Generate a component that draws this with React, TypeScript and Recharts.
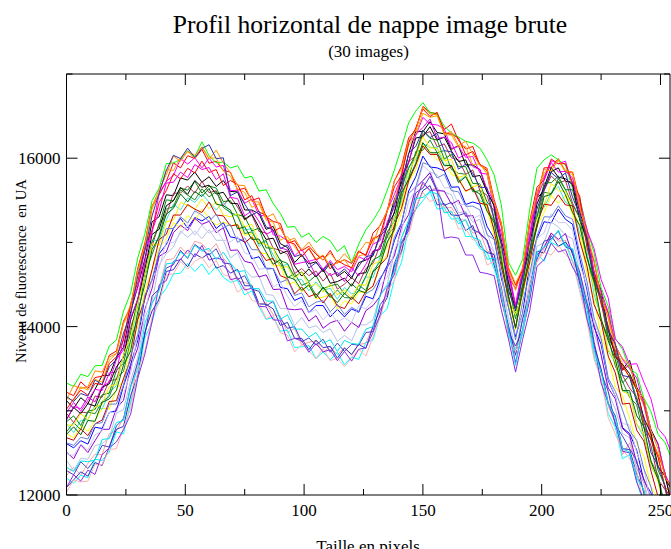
import React from 'react';
import { LineChart, Line, XAxis, YAxis } from 'recharts';

const xValues = [0,3,6,9,12,15,18,21,24,27,30,33,36,39,42,45,48,51,54,57,60,63,66,69,72,75,78,81,84,87,90,93,96,99,102,105,108,111,114,117,120,123,126,129,132,135,138,141,144,147,150,153,156,159,162,165,168,171,174,177,180,183,186,189,192,195,198,201,204,207,210,213,216,219,222,225,228,231,234,237,240,243,246,249,252,254];

const s01 = [13120,13030,13155,13085,13255,13420,13420,13630,13755,14180,14475,14805,15245,15305,15565,15555,15765,15740,15835,15715,15780,15665,15735,15605,15600,15385,15385,15340,15155,15190,14985,14940,14760,14850,14745,14770,14650,14745,14595,14655,14570,14760,14790,14840,15100,15205,15510,15705,16050,16320,16315,16435,16305,16290,16105,16150,15920,15920,15865,15600,15445,15030,14655,14230,14640,15055,15525,15615,15840,15885,15725,15715,15360,15115,14645,14430,13960,13780,13490,13600,13280,13130,12775,12605,12200,12095];
const s02 = [13220,13180,13345,13265,13395,13410,13660,13710,14065,14230,14695,14995,15435,15565,15725,15945,15885,16030,15995,16105,15940,15965,15855,15835,15620,15645,15495,15530,15305,15250,15225,14990,15020,14900,14955,14860,14790,14905,14755,14795,14750,14900,14840,15110,15200,15375,15730,15905,16240,16340,16615,16545,16525,16340,16405,16210,16110,16140,15915,15850,15455,15190,14595,14450,14690,15215,15535,15885,15890,15995,15835,15835,15490,15045,14775,14350,14160,13790,13480,13550,13240,13090,12685,12475,12260,11955];
const s03 = [13330,13290,13435,13405,13535,13540,13770,13840,14185,14400,14815,15105,15495,15645,15935,15945,15985,16090,16015,16195,16030,15945,15955,15885,15910,15765,15785,15610,15625,15460,15345,15180,15190,15060,15110,15000,15070,15020,14890,14960,14760,14980,15150,15260,15400,15620,15860,16130,16420,16560,16660,16540,16530,16380,16300,16250,16200,16180,16120,15980,15800,15445,14765,14610,14800,15400,15880,15980,16040,15980,15920,15640,15530,15160,14880,14460,14240,13860,13730,13500,13440,13150,12990,12720,12620,12475];
const s04 = [12610,12560,12645,12605,12805,12790,12980,13000,13295,13550,13835,14355,14555,14865,14975,15165,15285,15170,15295,15255,15310,15165,15235,15065,15050,15005,14805,14830,14685,14690,14465,14450,14310,14350,14165,14250,14250,14115,14205,14115,14210,14170,14360,14330,14560,14725,15020,15225,15610,15780,16025,15895,15885,15850,15655,15660,15450,15480,15455,15190,15045,14580,14235,13880,14160,14765,15045,15245,15230,15395,15275,15215,14810,14445,13995,13790,13360,13170,12800,12730,12530,12170,12025,11645,11430,11155];
const s05 = [12730,12680,12825,12755,12885,13030,13020,13260,13355,13780,13995,14435,14665,14935,15045,15235,15175,15320,15255,15395,15290,15205,15245,15195,15220,15085,15105,14880,14865,14720,14725,14500,14530,14410,14495,14330,14350,14385,14205,14305,14270,14410,14410,14480,14750,14855,15140,15345,15720,15860,16155,16095,15975,16000,15805,15780,15600,15660,15485,15400,15065,14860,14275,13960,14390,14735,15195,15355,15560,15465,15555,15325,15100,14635,14335,13890,13650,13280,13180,12910,12610,12460,12095,11955,11590,11345];
const s06 = [12230,12330,12235,12375,12485,12480,12730,12760,12915,13110,13605,13915,14275,14465,14795,14805,14945,14860,15015,14985,14890,14985,14815,14715,14540,14525,14495,14260,14285,14140,14125,13930,13980,13780,13815,13830,13690,13765,13665,13755,13660,13790,13800,14010,14100,14425,14680,14865,15270,15490,15695,15615,15655,15410,15415,15280,15260,15110,15125,14900,14865,14370,13965,13730,13950,14515,14765,14925,15110,15015,15025,14775,14630,14115,13685,13480,13060,12850,12480,12620,12320,12140,11735,11555,11220,11175];
const s07 = [12410,12290,12435,12425,12585,12610,12680,12970,13015,13360,13635,14115,14295,14735,14865,14945,15135,15060,15135,15045,15150,15025,15025,14815,14880,14685,14585,14600,14385,14370,14215,14210,14010,14110,13985,14010,13930,13975,13825,13895,13830,14020,14020,14080,14380,14505,14870,15055,15260,15650,15725,15845,15635,15600,15565,15350,15370,15240,15275,14990,14885,14450,14105,13720,14120,14465,14955,14995,15240,15185,15085,15045,14640,14345,13915,13680,13220,13020,12730,12680,12310,12160,11815,11665,11260,11125];
const s08 = [12510,12430,12595,12505,12645,12780,12780,13030,13125,13520,13745,14205,14455,14835,14885,15115,15205,15140,15285,15215,15250,15115,15175,14905,14910,14775,14755,14590,14615,14440,14445,14210,14200,14210,14065,14130,13980,14045,14075,13945,14050,13990,14190,14250,14360,14705,14840,15185,15330,15650,15735,15825,15615,15610,15455,15500,15310,15320,15095,15030,14775,14320,13975,13570,13950,14325,14845,14945,15110,15035,15105,14855,14650,14275,14035,13660,13270,13140,12790,12710,12380,12190,11965,11545,11390,11165];
const s09 = [12200,12140,12235,12205,12425,12410,12510,12750,12725,13100,13395,13865,14055,14345,14455,14625,14635,14750,14655,14745,14620,14715,14585,14525,14550,14375,14425,14240,14085,14110,13945,13960,13750,13760,13775,13620,13700,13605,13695,13545,13640,13610,13810,13840,14130,14215,14560,14765,15170,15390,15495,15605,15395,15410,15275,15290,15070,15070,14925,14880,14685,14440,13895,13720,13910,14425,14875,14775,15000,14955,14985,14775,14450,14145,13655,13370,12970,12800,12430,12480,12170,11870,11715,11335,11130,10855];
const s10 = [12980,13100,12995,13125,13255,13240,13450,13460,13865,14230,14465,14915,15115,15585,15725,15795,15995,15930,16005,15885,16000,15895,15915,15615,15620,15465,15515,15320,15315,15090,15075,15020,14840,14920,14775,14800,14680,14785,14675,14715,14650,14830,14790,14980,15020,15375,15570,15785,16200,16270,16485,16405,16395,16350,16115,16140,16010,16020,15825,15810,15395,15110,14675,14260,14700,15115,15595,15775,15970,15935,15965,15675,15510,15150,14930,14560,14340,13850,13760,13550,13560,13340,13140,12790,12690,12540];
const s11 = [13150,13120,13285,13245,13375,13340,13600,13680,14035,14200,14645,14955,15395,15585,15865,15855,16005,16080,15995,16135,16000,16005,15845,15785,15630,15595,15415,15460,15265,15240,15025,15070,14950,14830,14935,14800,14850,14725,14755,14795,14680,14840,14860,15060,15050,15395,15480,15835,16150,16280,16535,16485,16505,16280,16275,16130,16140,15920,15935,15810,15445,15220,14665,14430,14670,15265,15495,15825,15890,15975,15835,15805,15450,15145,14625,14360,14100,13720,13570,13390,13250,13060,12665,12465,12090,12045];
const s12 = [12290,12240,12395,12315,12425,12590,12570,12820,12905,13290,13575,13905,14365,14445,14695,14735,14905,14810,14975,14915,14850,14925,14755,14745,14560,14605,14445,14420,14245,14300,14095,13980,14000,13820,13865,13780,13850,13695,13805,13705,13790,13780,13930,13940,14260,14375,14750,14965,15180,15590,15645,15785,15605,15440,15475,15320,15350,15150,15115,15020,14725,14470,13935,13770,13960,14495,14795,15015,15040,15135,14945,14915,14560,14285,13825,13450,13230,12830,12700,12550,12410,12010,11805,11485,11320,11015];
const s13 = [12970,12860,12985,12975,13175,13160,13360,13370,13655,13990,14245,14755,14955,15225,15325,15585,15585,15670,15585,15725,15590,15615,15435,15545,15420,15265,15325,15130,15115,14930,14905,14860,14630,14690,14605,14660,14540,14635,14445,14505,14580,14510,14690,14750,14970,15055,15370,15595,15960,16030,16285,16315,16135,16170,16005,15980,15810,15860,15615,15560,15275,14980,14425,14240,14490,15065,15305,15615,15790,15705,15735,15465,15290,15055,14555,14290,13860,13720,13420,13270,13160,12800,12585,12185,12060,11825];
const s14 = [12850,12740,12885,12895,13065,13020,13210,13300,13655,13820,14285,14595,15025,15025,15265,15455,15385,15530,15475,15575,15480,15385,15475,15345,15310,15145,15165,14950,15015,14850,14715,14740,14550,14560,14425,14530,14430,14455,14325,14465,14390,14420,14590,14580,14830,14985,15310,15475,15900,15980,16175,16125,16125,15920,15915,15730,15790,15650,15495,15460,15155,14930,14355,13990,14440,14845,15335,15415,15590,15665,15475,15435,15100,14905,14385,14110,13710,13570,13240,13210,12840,12690,12335,12195,11850,11635];
const s15 = [12870,12940,12825,12995,13015,13190,13210,13480,13565,13930,14325,14585,15005,15205,15505,15495,15645,15620,15725,15585,15670,15645,15485,15495,15330,15305,15135,15170,14935,14930,14785,14750,14590,14650,14535,14610,14450,14485,14505,14385,14510,14430,14600,14790,14840,15125,15250,15665,15880,16050,16325,16235,16215,15990,16045,15900,15900,15700,15695,15480,15375,14910,14515,14090,14500,15015,15295,15705,15710,15785,15625,15625,15280,15005,14525,14320,13890,13690,13330,13420,13140,12810,12675,12295,12100,11835];
const s16 = [12900,13040,12965,13085,13055,13280,13320,13520,13635,14080,14325,14685,15095,15155,15435,15495,15655,15570,15735,15655,15680,15575,15595,15465,15460,15275,15335,15180,15035,15050,14865,14900,14720,14600,14685,14590,14680,14515,14535,14575,14480,14630,14640,14890,14920,15195,15350,15765,15950,16240,16255,16375,16215,16250,16085,15960,15980,15780,15795,15600,15435,14940,14535,14190,14620,14965,15455,15655,15890,15775,15755,15685,15270,15045,14595,14350,13960,13640,13550,13440,13250,12910,12735,12335,12220,11975];
const s17 = [13020,13140,13245,13185,13325,13310,13560,13640,13845,14270,14525,14965,15145,15475,15615,15815,15755,15880,15825,15965,15830,15865,15675,15735,15690,15505,15555,15360,15325,15130,15175,15010,14980,14830,14925,14790,14840,14685,14785,14735,14700,14890,14850,15040,15090,15375,15660,15795,16180,16360,16585,16495,16545,16300,16285,16240,16040,16080,15925,15880,15505,15230,14695,14490,14670,15255,15655,15745,15990,15935,15935,15705,15550,14945,14655,14270,14010,13660,13530,13400,13260,12860,12655,12445,12070,11985];
const s18 = [12750,12860,12775,12985,12965,13110,13170,13390,13465,13840,14095,14615,14855,15085,15395,15425,15625,15560,15505,15635,15540,15605,15415,15355,15320,15105,15125,14980,15025,14790,14755,14580,14630,14490,14525,14370,14460,14345,14435,14345,14340,14490,14430,14660,14770,15085,15180,15535,15760,16080,16095,16215,16065,16090,15865,15820,15810,15600,15615,15400,15255,14830,14305,14160,14380,14905,15205,15595,15580,15755,15625,15445,15290,14825,14505,14070,13880,13530,13350,13160,13070,12700,12405,12235,11840,11745];
const s19 = [12090,12180,12275,12225,12385,12350,12570,12780,12815,13180,13425,13935,14185,14325,14655,14675,14805,14710,14865,14815,14870,14695,14725,14635,14680,14485,14485,14270,14265,14210,14015,14050,13860,13860,13725,13840,13750,13765,13625,13745,13670,13790,13740,14000,14200,14345,14720,14895,15240,15400,15615,15675,15445,15460,15325,15320,15140,15200,14955,14880,14855,14380,14015,13660,14090,14435,14895,14875,15080,14955,15005,14885,14510,14235,13775,13500,13090,12940,12550,12540,12250,12050,11695,11535,11190,11115];
const s20 = [12830,12830,12965,12895,13045,13080,13290,13310,13665,13870,14275,14595,14985,14965,15245,15265,15475,15440,15395,15515,15400,15485,15325,15305,15340,15185,15215,15000,14975,14930,14705,14710,14570,14650,14475,14510,14410,14505,14375,14435,14340,14500,14490,14740,14780,14955,15290,15445,15830,16010,16255,16125,16115,15970,15985,15770,15800,15660,15685,15400,15225,14940,14325,14140,14400,14965,15275,15435,15700,15615,15605,15385,15210,14725,14495,14090,13730,13580,13230,13190,12850,12720,12365,12155,11800,11775];
const s21 = [12030,12180,12155,12165,12365,12360,12540,12550,12795,13030,13465,13715,14115,14285,14615,14625,14775,14680,14775,14825,14700,14785,14615,14595,14410,14465,14315,14280,14095,14130,13925,13900,13700,13790,13715,13620,13740,13595,13625,13525,13630,13730,13650,13880,14120,14415,14550,14965,15090,15410,15595,15485,15515,15360,15375,15160,15160,15030,15025,14730,14775,14440,13865,13700,13950,14485,14775,14885,14850,14965,14855,14775,14420,14075,13615,13380,12920,12720,12540,12430,12280,11890,11715,11515,11130,11025];
const s22 = [12490,12470,12605,12535,12715,12760,12980,12980,13205,13450,13905,14155,14575,14695,15015,14995,15105,15210,15085,15205,15110,15155,15025,15005,15070,14875,14845,14680,14695,14470,14525,14360,14240,14310,14165,14200,14080,14175,14055,14105,14050,14250,14210,14310,14500,14585,14900,15125,15490,15620,15915,15835,15805,15650,15645,15450,15450,15280,15325,15110,14885,14640,14075,13910,14140,14545,15045,15115,15340,15235,15235,15145,14740,14485,14045,13840,13380,13170,12850,12830,12500,12310,11905,11745,11400,11355];
const s23 = [12090,12240,12165,12295,12245,12480,12560,12630,12775,12960,13385,13675,14055,14495,14545,14775,14795,14910,14825,14965,14790,14815,14795,14555,14580,14435,14455,14240,14235,14080,14075,13830,13860,13830,13695,13800,13700,13725,13595,13705,13590,13730,13750,13930,14140,14465,14620,15005,15140,15510,15715,15615,15625,15050,15065,15050,14850,14850,14645,14630,14605,14200,13855,13460,13850,14195,14715,14795,14990,14885,14915,14705,14560,14095,13795,13330,13090,12860,12520,12500,12150,11940,11565,11435,11100,10975];
const s24 = [12330,12280,12405,12395,12415,12660,12670,12860,12885,13280,13505,14035,14275,14425,14745,14755,14885,14820,14965,14895,14930,14795,14885,14755,14650,14665,14455,14450,14305,14300,14085,14140,13970,13970,13875,13930,13800,13845,13705,13835,13800,13790,13970,14000,14370,14485,14650,15055,15260,15520,15535,15605,15575,15350,15365,15220,15270,15060,15025,14800,14815,14370,13965,13540,13980,14375,14885,14945,15020,15145,14955,14925,14600,14245,13725,13460,13090,12920,12550,12510,12200,12060,11645,11415,11220,10905];
const s25 = [12890,13050,13025,13165,13105,13290,13340,13610,13725,14100,14325,14785,15135,15375,15705,15715,15835,15770,15925,15865,15890,15745,15815,15535,15520,15315,15375,15250,15095,15140,14935,14910,14740,14760,14775,14600,14690,14605,14645,14535,14700,14600,14740,14900,14920,15245,15420,15805,15950,16280,16365,16465,16235,16250,16185,16000,16050,15900,15865,15630,15485,14980,14595,14250,14640,15035,15525,15735,15950,15835,15845,15765,15380,15165,14655,14420,14170,13780,13610,13500,13390,13070,12745,12605,12240,12125];
const s26 = [13130,13300,13265,13285,13475,13460,13640,13680,14045,14260,14675,14965,15425,15625,15805,16025,15965,16080,16035,16135,15990,16095,15945,15825,15680,15675,15485,15480,15295,15340,15175,15020,15050,14910,15005,14880,14790,14875,14765,14865,14770,14880,15000,14990,15210,15365,15730,15875,16210,16330,16605,16525,16515,16290,16315,16150,16200,16050,15915,15870,15475,15230,14705,14510,14700,15245,15575,15865,15850,15985,15855,15835,15420,15105,14795,14320,14110,13770,13620,13550,13260,13150,12765,12545,12200,12125];
const s27 = [13170,13110,13205,13175,13365,13310,13520,13610,13925,14140,14605,14905,15315,15585,15855,16035,15995,16120,16005,16115,16160,15995,16005,15555,15600,15455,15325,15370,15185,15150,14925,14970,14830,14860,14695,14760,14670,14765,14615,14685,14590,14720,14830,14850,15070,15175,15460,15645,16060,16140,16335,16245,16295,16090,16075,15870,15930,15820,15655,15650,15275,14990,14425,14200,14580,14905,15395,15635,15830,15755,15825,15535,15330,15065,14565,14340,13960,13790,13420,13400,13100,12930,12505,12345,12100,11825];
const s28 = [12680,12650,12785,12705,12845,12890,13110,13120,13385,13610,14085,14325,14675,15035,15095,15325,15325,15450,15395,15355,15480,15325,15315,15195,15210,14995,15065,14910,14785,14810,14605,14570,14390,14470,14355,14390,14280,14395,14245,14215,14350,14270,14420,14480,14730,14825,15210,15405,15730,15920,16145,16045,16045,15850,15905,15750,15610,15650,15465,15450,15135,14710,14355,13990,14430,14775,15215,15455,15440,15565,15445,15435,15020,14725,14265,14060,13650,13450,13080,13090,12770,12640,12285,11975,11810,11505];
const s29 = [12620,12590,12685,12665,12845,12860,13080,13080,13305,13660,13905,14375,14555,14895,15165,15165,15305,15230,15375,15325,15250,15335,15175,15215,15000,15055,14915,14910,14695,14690,14525,14560,14370,14400,14235,14290,14310,14175,14265,14145,14230,14180,14390,14440,14580,14695,15060,15235,15580,15660,15945,15915,15765,15810,15615,15600,15430,15430,15385,15090,15035,14630,14235,13840,14300,14625,15075,15305,15300,15435,15315,15275,14870,14545,14105,13860,13390,13230,13010,12760,12650,12310,12095,11735,11590,11265];
const s30 = [12720,12810,12715,12885,12875,13100,13140,13240,13545,13710,14175,14505,14915,15065,15335,15405,15575,15480,15605,15545,15640,15455,15435,15385,15160,15185,15035,15040,14885,14740,14795,14590,14560,14430,14495,14340,14470,14365,14285,14395,14320,14430,14400,14650,14730,15005,15150,15585,15750,15940,16185,16065,16065,15910,15915,15710,15780,15620,15575,15370,15235,14770,14375,13980,14450,14855,15175,15545,15570,15725,15565,15355,15200,14825,14555,14090,13830,13610,13240,13240,12940,12810,12395,12185,11840,11795];

const seriesColors = ['#000000','#ff0000','#00ff00','#0000ff','#ffff00','#f7a1a1','#b4c2e6','#9400d3','#00ffff','#ff00ff','#ffa500','#4a40c8','#b0305a','#40e0d0','#008b00','#000000','#ff0000','#228b22','#3030c0','#ffee00','#ffb0b0','#c8c8f0','#8a2be2','#00e5ee','#ee00ee','#ff8c00','#3333aa','#c80000','#6a7fd6','#006400'];

const xTicks = [0,25,50,75,100,125,150,175,200,225,250];
const xTickLabels = [0,50,100,150,200,250];
const yTicks = [12000,13000,14000,15000,16000,17000];
const yTickLabels = [12000,14000,16000];

const titleText = 'Profil horizontal de nappe image brute';
const subtitleText = '(30 images)';
const xLabelText = 'Taille en pixels';
const yLabelText = 'Niveau de fluorescence  en UA';

const seriesValues = [s01,s02,s03,s04,s05,s06,s07,s08,s09,s10,s11,s12,s13,s14,s15,s16,s17,s18,s19,s20,s21,s22,s23,s24,s25,s26,s27,s28,s29,s30];

const chartData = xValues.map((x, i) => {
  const row: Record<string, number> = { x };
  seriesValues.forEach((vals, j) => {
    row['s' + (j + 1)] = vals[i];
  });
  return row;
});

const FONT = '"Liberation Serif", "Times New Roman", Times, serif';
const MAJOR = 11;
const MINOR = 6;

function BottomTick(props: any) {
  const { x, y, payload } = props;
  const v = payload.value;
  const major = xTickLabels.includes(v);
  return (
    <g>
      <line x1={x} y1={y} x2={x} y2={y - (major ? MAJOR : MINOR)} stroke="#000" strokeWidth={1} />
      {major ? (
        <text x={x} y={y + 9} dy="0.71em" textAnchor="middle" fontFamily={FONT} fontSize={17} fill="#000">
          {v}
        </text>
      ) : null}
    </g>
  );
}

function TopTick(props: any) {
  const { x, y, payload } = props;
  const major = xTickLabels.includes(payload.value);
  return <line x1={x} y1={y} x2={x} y2={y + (major ? MAJOR : MINOR)} stroke="#000" strokeWidth={1} />;
}

function LeftTick(props: any) {
  const { x, y, payload } = props;
  const v = payload.value;
  const major = yTickLabels.includes(v);
  return (
    <g>
      <line x1={x} y1={y} x2={x + (major ? MAJOR : MINOR)} y2={y} stroke="#000" strokeWidth={1} />
      {major ? (
        <text x={x - 6} y={y} dy="0.355em" textAnchor="end" fontFamily={FONT} fontSize={17} fill="#000">
          {v}
        </text>
      ) : null}
    </g>
  );
}

function RightTick(props: any) {
  const { x, y, payload } = props;
  const major = yTickLabels.includes(payload.value);
  return <line x1={x} y1={y} x2={x - (major ? MAJOR : MINOR)} y2={y} stroke="#000" strokeWidth={1} />;
}

export default function App() {
  return (
    <div style={{ position: 'absolute', left: 0, top: 0, width: 671, height: 549, background: '#ffffff', overflow: 'hidden' }}>
      <LineChart width={671} height={549} data={chartData} margin={{ top: 54, right: 0, bottom: 24, left: 6.5 }}>
        <XAxis
          dataKey="x"
          type="number"
          domain={[0, 254]}
          ticks={xTicks}
          interval={0}
          tickSize={0}
          tickMargin={0}
          tickLine={false}
          axisLine={{ stroke: '#000', strokeWidth: 1 }}
          tick={(p: any) => <BottomTick {...p} />}
          height={30}
          allowDataOverflow
        />
        <XAxis
          xAxisId="top"
          orientation="top"
          dataKey="x"
          type="number"
          domain={[0, 254]}
          ticks={xTicks}
          interval={0}
          tickSize={0}
          tickMargin={0}
          tickLine={false}
          axisLine={{ stroke: '#000', strokeWidth: 1 }}
          tick={(p: any) => <TopTick {...p} />}
          height={20}
          allowDataOverflow
        />
        <YAxis
          type="number"
          domain={[12000, 17000]}
          ticks={yTicks}
          interval={0}
          tickSize={0}
          tickMargin={0}
          tickLine={false}
          axisLine={{ stroke: '#000', strokeWidth: 1 }}
          tick={(p: any) => <LeftTick {...p} />}
          width={60}
          allowDataOverflow
        />
        <YAxis
          yAxisId="right"
          orientation="right"
          type="number"
          domain={[12000, 17000]}
          ticks={yTicks}
          interval={0}
          tickSize={0}
          tickMargin={0}
          tickLine={false}
          axisLine={{ stroke: '#000', strokeWidth: 1 }}
          tick={(p: any) => <RightTick {...p} />}
          width={1}
          allowDataOverflow
        />
        {seriesValues.map((_, j) => (
          <Line
            key={'s' + (j + 1)}
            dataKey={'s' + (j + 1)}
            type="linear"
            stroke={seriesColors[j]}
            strokeWidth={1}
            dot={false}
            activeDot={false}
            isAnimationActive={false}
          />
        ))}
      </LineChart>
      <svg width={671} height={549} style={{ position: 'absolute', left: 0, top: 0, pointerEvents: 'none' }}>
        <text x={370} y={33} textAnchor="middle" fontFamily={FONT} fontSize={25.6} fill="#000">{titleText}</text>
        <text x={368.5} y={56.5} textAnchor="middle" fontFamily={FONT} fontSize={17} fill="#000">{subtitleText}</text>
        <text x={368} y={551.5} textAnchor="middle" fontFamily={FONT} fontSize={17} fill="#000">{xLabelText}</text>
        <text
          transform="translate(26,271) rotate(-90)"
          textAnchor="middle"
          fontFamily={FONT}
          fontSize={14.7}
          fill="#000"
          style={{ whiteSpace: 'pre' }}
        >
          {yLabelText}
        </text>
      </svg>
    </div>
  );
}
